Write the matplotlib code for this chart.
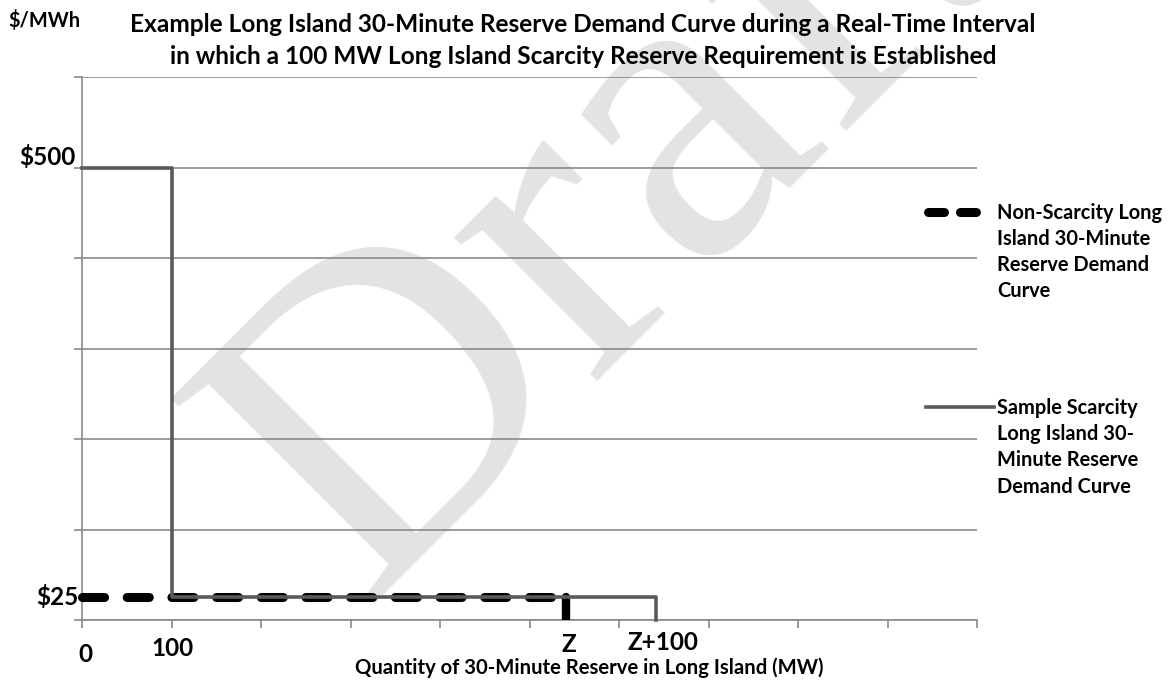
import matplotlib
matplotlib.use('Agg')
import matplotlib.pyplot as plt
from matplotlib.lines import Line2D

plt.rcParams['font.family'] = ['Lato', 'DejaVu Sans']
plt.rcParams['font.weight'] = 'bold'

# données
z = 541
non_scarcity_x = [0, z]
non_scarcity_y = [25, 25]
drop_x = [z, z]
drop_y = [25, 0]
scarcity_x = [0, 100, 100, z + 100, z + 100]
scarcity_y = [500, 500, 25, 25, 0]
y_labels = [(500, '$500'), (25, '$25')]
x_labels = [(0, '0'), (100, '100'), (z, 'Z'), (z + 100, 'Z+100')]

W, H = 1172, 680
fig = plt.figure(figsize=(W / 100, H / 100), dpi=100)
ax = fig.add_axes([82 / W, 1 - 620 / H, 895 / W, 543 / H])
ax.patch.set_visible(False)

grid_c = '#8a8a8a'
ax.set_xlim(0, 1000)
ax.set_ylim(0, 600)
ax.set_xticks(range(0, 1001, 100))
ax.set_yticks(range(0, 601, 100))
ax.tick_params(length=6, width=1.2, color=grid_c, labelbottom=False, labelleft=False)
ax.grid(axis='y', color=grid_c, lw=1.2)
ax.set_axisbelow(True)
for s in ['top', 'right']:
    ax.spines[s].set_visible(False)
for s in ['left', 'bottom']:
    ax.spines[s].set_color(grid_c)
    ax.spines[s].set_linewidth(1.2)

# courbe non-rareté (noire, tirets)
ax.plot(non_scarcity_x, non_scarcity_y, color='black', lw=6.5,
        dashes=(2.45, 2.5), dash_capstyle='round', clip_on=False, zorder=3)
ax.plot(drop_x, drop_y, color='black', lw=6, solid_capstyle='round', zorder=3)
# courbe de rareté (grise)
ax.plot(scarcity_x, scarcity_y, color='#5a5a5a', lw=2.6, clip_on=False, zorder=4)

# étiquettes
y_offs = {'$500': (-7, 10), '$25': (-4, 0)}
for v, t in y_labels:
    ax.annotate(t, (0, v), xytext=y_offs[t], textcoords='offset pixels',
                ha='right', va='center', fontsize=17.5, fontweight='bold')
x_offs = {'0': (3, -34), '100': (1, -29), 'Z': (3, -24), 'Z+100': (7, -23)}
for v, t in x_labels:
    ax.annotate(t, (v, 0), xytext=x_offs[t], textcoords='offset pixels',
                ha='center', va='center', fontsize=17.5, fontweight='bold')

fig.text(589 / W, 1 - 668 / H, 'Quantity of 30-Minute Reserve in Long Island (MW)',
         ha='center', va='center', fontsize=14.6, fontweight='bold')
fig.text(8 / W, 1 - 21 / H, '$/MWh', ha='left', va='center', fontsize=14.4, fontweight='bold')
fig.text(583 / W, 1 - 25 / H, 'Example Long Island 30-Minute Reserve Demand Curve during a Real-Time Interval',
         ha='center', va='center', fontsize=17.6, fontweight='bold')
fig.text(583 / W, 1 - 56 / H, 'in which a 100 MW Long Island Scarcity Reserve Requirement is Established',
         ha='center', va='center', fontsize=17.6, fontweight='bold')

# légende faite à la main
fig.add_artist(Line2D([927.5 / W, 975.5 / W], [1 - 211.5 / H] * 2, color='black', lw=6.5,
                      dashes=(1.77, 1.77), dash_capstyle='round'))
fig.add_artist(Line2D([926 / W, 994 / W], [1 - 407 / H] * 2, color='#5a5a5a', lw=2.6))
fig.text(997 / W, 1 - 202.5 / H, 'Non-Scarcity Long\nIsland 30-Minute\nReserve Demand\nCurve',
         ha='left', va='top', fontsize=14.4, fontweight='bold', linespacing=1.39)
fig.text(997 / W, 1 - 398 / H, 'Sample Scarcity\nLong Island 30-\nMinute Reserve\nDemand Curve',
         ha='left', va='top', fontsize=14.4, fontweight='bold', linespacing=1.39)

# filigrane
fig.text(362 / W, 1 - 603 / H, 'Draft', family='Liberation Serif', fontweight='normal',
         fontsize=318, color='#e3e3e3', rotation=45, rotation_mode='anchor',
         ha='left', va='baseline', zorder=-1)

fig.savefig('out.png', dpi=100)
